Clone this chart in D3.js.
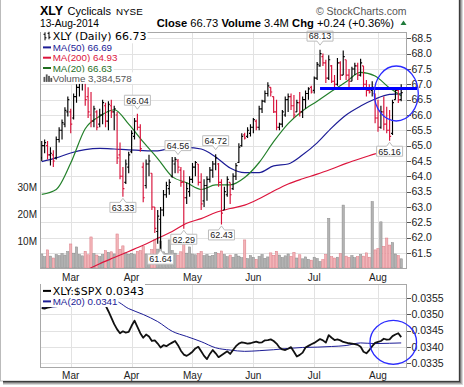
<!DOCTYPE html>
<html><head><meta charset="utf-8">
<script src="https://cdn.jsdelivr.net/npm/d3@7"></script>
<style>body{margin:0;background:#fff}svg{display:block}</style>
</head><body><svg id="c" width="464" height="387"></svg>
<script>
// ---------- data ----------
const holidays = ["2014-02-17","2014-04-18","2014-05-26","2014-07-04"];
const firstDay = "2014-02-14", lastDay = "2014-08-13";
const open = [64.60,65.00,65.00,64.70,64.70,64.60,65.20,65.50,65.70,66.10,66.10,65.90,66.60,66.90,67.10,67.20,66.60,66.00,65.80,66.10,
65.70,66.00,66.30,65.80,66.30,66.10,66.00,64.70,64.00,63.80,64.30,64.80,65.30,65.80,65.60,64.30,63.70,64.40,64.10,63.00,
62.20,62.60,62.90,63.40,63.60,64.00,64.40,64.50,64.20,63.80,63.30,63.50,63.90,64.30,64.40,63.80,63.20,63.70,63.90,64.20,
64.40,64.40,63.80,62.90,63.40,63.80,63.60,64.00,64.45,65.00,65.35,65.30,65.40,65.60,65.80,65.60,66.20,66.45,66.70,66.90,
66.60,66.10,65.60,65.70,66.00,66.50,66.60,66.30,66.10,66.40,66.10,66.50,66.70,66.90,66.80,67.20,67.60,67.90,67.70,67.20,
67.60,67.10,67.00,67.70,67.30,67.80,67.30,67.10,67.50,67.60,67.30,67.60,67.00,66.80,66.80,66.70,65.90,65.60,66.10,65.70,
65.50,65.40,66.50,66.80,66.50];
const high = [65.15,65.20,65.15,64.95,64.85,65.30,65.60,65.85,66.25,66.60,66.20,66.70,67.00,67.20,67.35,67.30,66.90,66.75,66.30,66.15,
66.20,66.50,66.40,66.45,66.50,66.30,66.10,65.10,64.30,64.55,64.80,65.50,65.90,66.04,65.70,64.45,64.55,64.70,64.10,63.00,
62.90,63.00,63.55,63.82,63.90,64.63,64.63,64.56,64.30,64.20,63.80,64.00,64.43,64.50,64.40,64.10,63.90,64.00,64.30,64.50,
64.72,64.43,63.90,63.66,64.00,63.80,64.10,64.43,65.08,65.40,65.42,65.60,65.70,65.90,65.85,66.30,66.50,66.80,67.07,66.90,
66.60,66.50,65.75,66.16,66.60,66.70,66.70,66.65,66.50,66.75,66.60,66.80,66.90,66.95,67.25,67.73,68.13,68.00,67.80,67.95,
67.63,67.30,67.86,67.75,68.10,67.80,67.50,67.57,67.70,67.70,67.83,67.60,67.14,67.00,67.10,66.70,66.50,66.30,66.60,66.27,
66.16,66.50,66.90,66.90,67.00];
const low = [64.50,64.75,64.55,64.35,64.30,64.55,65.10,65.20,65.60,65.95,65.40,65.85,66.40,66.60,66.80,66.30,65.90,65.60,65.60,65.50,
65.60,65.70,65.60,65.50,65.90,65.50,64.40,63.90,63.33,63.75,64.10,64.75,65.20,65.50,64.80,63.15,63.60,64.00,62.90,62.15,
61.80,61.64,62.70,63.30,63.40,63.95,64.10,64.10,63.66,62.29,63.10,63.33,63.78,64.00,63.70,62.90,63.00,63.20,63.80,63.95,
64.20,63.66,62.43,62.90,63.33,63.10,63.55,63.88,64.43,64.96,65.20,65.25,65.30,65.40,65.50,65.50,66.06,66.40,66.60,66.60,
66.06,65.50,65.50,65.60,65.94,66.10,66.16,65.90,66.10,65.95,65.90,66.20,66.50,66.70,66.70,67.14,67.57,67.60,67.04,67.14,
67.04,66.90,66.95,67.14,67.30,67.14,66.90,67.10,67.30,67.14,67.25,66.87,66.60,66.70,66.60,65.73,65.45,65.55,65.50,65.40,
65.16,65.35,66.50,66.39,66.45];
const close = [65.00,65.10,64.70,64.75,64.50,65.20,65.50,65.75,66.15,66.50,65.70,66.60,66.90,67.10,67.20,66.50,66.10,65.80,66.20,65.60,
66.00,66.40,65.80,66.35,66.10,66.20,64.60,64.00,63.60,64.40,64.70,65.40,65.80,65.60,64.90,63.30,64.40,64.50,63.00,62.30,
62.70,62.90,63.40,63.70,63.80,64.50,64.55,64.30,63.80,63.30,63.60,63.90,64.30,64.45,63.80,63.10,63.70,63.90,64.20,64.40,
64.60,63.80,62.80,63.50,63.90,63.40,64.00,64.35,64.95,65.30,65.25,65.50,65.60,65.85,65.60,66.20,66.45,66.70,66.95,66.75,
66.10,65.60,65.70,66.10,66.50,66.60,66.30,66.00,66.40,66.10,66.50,66.70,66.85,66.75,67.20,67.65,68.00,67.70,67.20,67.80,
67.10,67.00,67.70,67.30,67.90,67.30,67.10,67.50,67.60,67.30,67.70,67.00,66.80,66.75,66.90,65.90,65.60,66.10,65.70,65.50,
65.30,66.40,66.80,66.49,66.73];
// volume in millions of shares
const volume = [5.2,4.2,6.7,4.4,3.7,5.0,4.6,5.3,4.8,6.1,8.9,5.5,7.8,5.0,4.5,6.2,4.9,11.5,5.3,4.8,
4.2,5.0,6.4,5.8,6.0,5.2,12.6,6.9,8.2,5.6,5.1,5.4,5.0,6.2,6.5,7.9,5.2,4.8,6.8,10.4,
7.0,10.0,6.0,5.4,10.4,6.5,5.5,4.8,6.0,10.4,5.5,7.8,5.2,4.9,5.4,6.1,4.6,5.0,4.4,4.7,
5.8,5.3,6.3,5.0,4.2,4.8,4.0,5.1,4.4,3.8,10.4,3.5,4.6,3.9,3.2,4.3,5.0,3.6,4.1,5.6,
4.7,6.2,4.8,3.9,4.5,5.2,4.3,5.8,3.7,4.9,3.4,4.1,3.2,2.9,4.0,3.5,2.4,3.1,5.0,18.4,
4.2,3.7,4.0,5.3,23.3,4.4,3.9,4.6,3.8,4.2,5.0,4.4,5.6,4.0,24.6,6.7,7.2,17.1,8.0,11.1,
8.5,9.4,5.2,4.6,3.4];
// moving averages, sampled on these trading-day indices
const maIdx = [0,5,10,15,20,25,30,35,40,45,50,55,60,65,70,75,80,85,90,95,100,105,110,115,120,124];
const ma20 = [63.41,63.57,64.43,65.55,65.96,66.17,65.70,65.12,64.58,63.99,63.79,63.57,63.72,63.72,63.96,64.45,65.13,65.72,66.14,66.45,66.77,67.08,67.39,67.27,66.88,66.63];
const ma50 = [64.48,64.60,64.76,64.87,64.91,64.89,64.86,64.84,64.83,64.92,64.94,64.89,64.63,64.27,64.12,64.12,64.34,64.40,64.70,65.09,65.58,66.00,66.29,66.52,66.67,66.69];
const ma200 = [60.35,60.55,60.75,60.93,61.15,61.35,61.55,61.75,61.98,62.20,62.47,62.62,62.82,62.95,63.06,63.27,63.52,63.75,63.92,64.07,64.24,64.42,64.58,64.73,64.86,64.93];
// XLY:$SPX ratio (daily) and its MA(20) sampled on maIdx
const ratio = [.03520,.03518,.03521,.03523,.03527,.03532,.03536,.03540,.03545,.03548,.03552,.03555,.03553,.03556,.03560,.03558,.03555,.03560,.03557,.03552,
.03548,.03540,.03528,.03510,.03490,.03470,.03454,.03442,.03448,.03444,.03446,.03465,.03481,.03462,.03442,.03428,.03438,.03432,.03418,.03420,
.03410,.03398,.03405,.03402,.03408,.03413,.03418,.03405,.03388,.03376,.03372,.03378,.03385,.03395,.03400,.03386,.03372,.03362,.03378,.03390,
.03380,.03368,.03374,.03380,.03386,.03378,.03390,.03402,.03410,.03414,.03412,.03410,.03411,.03414,.03416,.03413,.03414,.03420,.03421,.03423,
.03418,.03410,.03398,.03392,.03390,.03394,.03399,.03385,.03370,.03375,.03382,.03398,.03403,.03408,.03412,.03418,.03424,.03420,.03413,.03436,
.03428,.03421,.03423,.03420,.03415,.03413,.03411,.03410,.03408,.03406,.03400,.03385,.03380,.03390,.03402,.03412,.03415,.03418,.03425,.03422,
.03423,.03433,.03438,.03442,.03430];
const ratioMa20 = [.03521,.03524,.03530,.03536,.03541,.03542,.03518,.03500,.03478,.03448,.03432,.03416,.03397,.03390,.03386,.03388,.03391,.03395,.03398,.03399,.03401,.03404,.03412,.03410,.03411,.03412];
const priceTicks = [61.5,62.0,62.5,63.0,63.5,64.0,64.5,65.0,65.5,66.0,66.5,67.0,67.5,68.0,68.5];
const volTicks = [10,20,30];
const ratioTicks = [0.0335,0.0340,0.0345,0.0350,0.0355];
const highLabelIdx = [33,47,60,96];
const lowLabelIdx = [28,41,49,62,120];
const resistanceLevel = 66.86, resistanceFrom = 96;
const circleCenterIdx = 122.3, circlePrice = 66.7, circleRatio = 0.03414;

// ---------- setup ----------
const fmtDay = d3.timeFormat("%Y-%m-%d");
const parse = d3.timeParse("%Y-%m-%d");
const days = d3.timeDay.range(parse(firstDay), d3.timeDay.offset(parse(lastDay), 1))
  .filter(d => d.getDay() % 6 !== 0 && !holidays.includes(fmtDay(d)));
const monthStarts = days.map((d,i)=>({d,i})).filter(o => o.i>0 && o.d.getMonth() !== days[o.i-1].getMonth());

const svg = d3.select("#c");
const F = "'Liberation Sans', Arial, sans-serif";
const FD = "'DejaVu Sans', Verdana, sans-serif";
const RED = "#d8123a", BLK = "#000";

const L = 40, R = 407, T = 32, B = 268, T2 = 284, B2 = 367;
const x = d3.scaleLinear().domain([-0.6, 126]).range([L, R]);
const y = d3.scaleLinear().domain([61.01, 68.705]).range([B, T]);
const yv = d3.scaleLinear().domain([0, 87.4]).range([B, T]);
const yr = d3.scaleLinear().domain([0.033376, 0.035942]).range([B2, T2]);

// frame + shadow
svg.append("rect").attr("x",0.5).attr("y",-1).attr("width",458.5).attr("height",382).attr("fill","#fff").attr("stroke","#bbb");
[["#3c3c3c",0],["#7a7a7a",1],["#adadad",2],["#d8d8d8",3]].forEach(([c,k])=>{
  svg.append("line").attr("x1",459.5+k).attr("x2",459.5+k).attr("y1",0).attr("y2",382+k).attr("stroke",c);
  svg.append("line").attr("x1",3).attr("x2",459.5+k).attr("y1",381.5+k).attr("y2",381.5+k).attr("stroke",c);
});

const defs = svg.append("defs");
defs.append("clipPath").attr("id","cm").append("rect").attr("x",L).attr("y",T).attr("width",R-L).attr("height",B-T);
defs.append("clipPath").attr("id","cr").append("rect").attr("x",L).attr("y",T2).attr("width",R-L).attr("height",B2-T2);

// ---------- header ----------
svg.append("text").attr("x",40).attr("y",15).attr("font-family",F).attr("font-size",12.5).attr("font-weight","bold").text("XLY");
svg.append("text").attr("x",67.5).attr("y",14.5).attr("font-family",F).attr("font-size",11).text("Cyclicals");
svg.append("text").attr("x",116).attr("y",14.5).attr("font-family",F).attr("font-size",9.8).text("NYSE");
svg.append("text").attr("x",406.5).attr("y",14.5).attr("text-anchor","end").attr("font-family",F).attr("font-size",10.5).attr("fill","#555").text("\u00A9 StockCharts.com");
svg.append("text").attr("x",40).attr("y",26.5).attr("font-family",F).attr("font-size",10.2).text(d3.timeFormat("%d-%b-%Y")(days[days.length-1]));
const n = close.length;
const chg = close[n-1]-close[n-2];
const hdr = svg.append("text").attr("x",156.7).attr("y",26.5).attr("font-family",F).attr("font-size",11.2);
hdr.append("tspan").attr("font-weight","bold").text("Close");
hdr.append("tspan").text(" " + close[n-1].toFixed(2) + " ");
hdr.append("tspan").attr("font-weight","bold").text("Volume");
hdr.append("tspan").text(" " + d3.format(".1f")(volume[n-1]) + "M ");
hdr.append("tspan").attr("font-weight","bold").text("Chg");
hdr.append("tspan").text(" " + d3.format("+.2f")(chg) + " (" + d3.format("+.2f")(chg/close[n-2]*100) + "%)");
svg.append("path").attr("d","M400.5,25 L403.5,20.5 L406.5,25 Z").attr("fill","#1f7a3a");

// ---------- grids ----------
const gGrid = svg.append("g").attr("stroke","#e2e2e2").attr("shape-rendering","crispEdges");
priceTicks.forEach(p => gGrid.append("line").attr("x1",L).attr("x2",R).attr("y1",Math.round(y(p))+0.5).attr("y2",Math.round(y(p))+0.5));
ratioTicks.forEach(p => gGrid.append("line").attr("x1",L).attr("x2",R).attr("y1",Math.round(yr(p))+0.5).attr("y2",Math.round(yr(p))+0.5));
monthStarts.forEach(o => {
  const xx = Math.round(x(o.i))+0.5;
  gGrid.append("line").attr("x1",xx).attr("x2",xx).attr("y1",T).attr("y2",B);
  gGrid.append("line").attr("x1",xx).attr("x2",xx).attr("y1",T2).attr("y2",B2);
});

// ---------- volume ----------
const up = close.map((c,i)=> i===0 || c >= close[i-1]);
const step = x(1)-x(0);
svg.append("g").attr("clip-path","url(#cm)").selectAll("rect").data(volume).join("rect")
  .attr("x",(v,i)=>x(i)-step/2+0.3).attr("width",step-0.6)
  .attr("y",v=>yv(v)).attr("height",v=>B-yv(v))
  .attr("fill",(v,i)=>up[i]?"#b3b3b3":"#f2b4b8")
  .attr("stroke",(v,i)=>up[i]?"#8a8a8a":"#dc7a84").attr("stroke-width",0.5);

// ---------- moving averages ----------
const maLine = (ys) => d3.line().x(d=>x(d[0])).y(d=>ys(d[1])).curve(d3.curveMonotoneX);
const gMA = svg.append("g").attr("clip-path","url(#cm)").attr("fill","none");
gMA.append("path").attr("d",maLine(y)(maIdx.map((k,j)=>[k,ma200[j]]))).attr("stroke","#dc143c").attr("stroke-width",1.2);
gMA.append("path").attr("d",maLine(y)(maIdx.map((k,j)=>[k,ma50[j]]))).attr("stroke","#1c1c96").attr("stroke-width",1.2);
gMA.append("path").attr("d",maLine(y)(maIdx.map((k,j)=>[k,ma20[j]]))).attr("stroke","#23802a").attr("stroke-width",1.2);

// ---------- price bars ----------
const tk = 1.5;
svg.append("g").attr("clip-path","url(#cm)").selectAll("path").data(close).join("path")
  .attr("d",(c,i)=>{const xx=x(i);return `M${xx},${y(high[i])}V${y(low[i])}M${xx-tk},${y(open[i])}H${xx}M${xx},${y(c)}H${xx+tk}`;})
  .attr("stroke",(c,i)=>up[i]?BLK:RED).attr("stroke-width",1.15).attr("fill","none");

// ---------- price callouts ----------
function callout(i, val, isHigh){
  const cx = x(i), w = 26, h = 10;
  const py = y(val);
  let d, ty;
  if(isHigh){
    const yb = py - 8.5, yt = yb - h;
    d = `M${cx-w/2},${yt}H${cx+w/2}V${yb}H${cx+3}L${cx},${yb+4}L${cx-3},${yb}H${cx-w/2}Z`;
    ty = yt + 8.3;
  } else {
    const yt = py + 5.5, yb = yt + h;
    d = `M${cx-w/2},${yt}H${cx-3}L${cx},${yt-4}L${cx+3},${yt}H${cx+w/2}V${yb}H${cx-w/2}Z`;
    ty = yt + 8.3;
  }
  svg.append("path").attr("d",d).attr("fill","#fff").attr("stroke","#bdbdbd").attr("stroke-width",1);
  svg.append("text").attr("x",cx).attr("y",ty).attr("text-anchor","middle").attr("font-family",F).attr("font-size",9).attr("fill","#222").text(val.toFixed(2));
}
highLabelIdx.forEach(i=>callout(i, high[i], true));
lowLabelIdx.forEach(i=>callout(i, low[i], false));

// ---------- ratio panel ----------
const gR = svg.append("g").attr("clip-path","url(#cr)").attr("fill","none");
gR.append("path").attr("d",maLine(yr)(maIdx.map((k,j)=>[k,ratioMa20[j]]))).attr("stroke","#1c1c96").attr("stroke-width",1);
gR.append("path").attr("d",d3.line().x((v,i)=>x(i)).y(v=>yr(v))(ratio)).attr("stroke","#111").attr("stroke-width",1.8).attr("stroke-linejoin","round");

// ---------- borders ----------
svg.append("rect").attr("x",L+0.5).attr("y",T+0.5).attr("width",R-L-1).attr("height",B-T).attr("fill","none").attr("stroke","#a8a8a8");
svg.append("rect").attr("x",L+0.5).attr("y",T2+0.5).attr("width",R-L-1).attr("height",B2-T2).attr("fill","none").attr("stroke","#a8a8a8");

// ---------- axes labels ----------
const gAx = svg.append("g").attr("font-family",F).attr("font-size",10.5).attr("fill","#222");
priceTicks.forEach(p=>{
  svg.append("line").attr("x1",R).attr("x2",R+4).attr("y1",Math.round(y(p))+0.5).attr("y2",Math.round(y(p))+0.5).attr("stroke","#555");
  gAx.append("text").attr("x",R+4.5).attr("y",y(p)+3.8).text(p.toFixed(1));
});
ratioTicks.forEach(p=>{
  svg.append("line").attr("x1",R).attr("x2",R+4).attr("y1",Math.round(yr(p))+0.5).attr("y2",Math.round(yr(p))+0.5).attr("stroke","#555");
  gAx.append("text").attr("x",R+4.5).attr("y",yr(p)+3.8).text(p.toFixed(4));
});
volTicks.forEach(v=>{
  gAx.append("text").attr("x",37).attr("y",yv(v)+3.6).attr("text-anchor","end").attr("font-size",10).text(v+"M");
});
monthStarts.forEach(o=>{
  const lab = d3.timeFormat("%b")(o.d);
  gAx.append("text").attr("x",x(o.i)).attr("y",280.7).attr("text-anchor","middle").attr("font-size",10).text(lab);
  gAx.append("text").attr("x",x(o.i)).attr("y",379).attr("text-anchor","middle").attr("font-size",10).text(lab);
});

// ---------- legends ----------
function legendRow(yb, font, size, color, label, marker){
  const g = svg.append("g");
  const t = g.append("text").attr("x",52.7).attr("y",yb).attr("font-family",font).attr("font-size",size).attr("fill",color).text(label);
  const bb = t.node().getBBox();
  g.insert("rect","text").attr("x",41).attr("y",bb.y-0.5).attr("width",bb.x+bb.width-40).attr("height",bb.height+0.5).attr("fill","#fff");
  marker(g, yb);
}
const lineMarker = (c,w)=> (g,yb)=> g.append("line").attr("x1",43).attr("x2",51).attr("y1",yb-3.6).attr("y2",yb-3.6).attr("stroke",c).attr("stroke-width",w);
legendRow(40.3, FD, 11, "#000", `XLY (Daily) ${close[n-1].toFixed(2)}`, (g,yb)=>{
  g.append("path").attr("d",`M45,${yb-8}V${yb}M43.5,${yb-6}H45M45,${yb-2.5}H46.5M49,${yb-8.5}V${yb-1}M47.5,${yb-7}H49M49,${yb-3}H50.5`).attr("stroke","#000").attr("stroke-width",1).attr("fill","none");
});
legendRow(51, F, 9.8, "#1c1c96", `MA(50) ${ma50[ma50.length-1].toFixed(2)}`, lineMarker("#1c1c96",2));
legendRow(61.3, F, 9.8, "#dc143c", `MA(200) ${ma200[ma200.length-1].toFixed(2)}`, lineMarker("#dc143c",2));
legendRow(71.6, F, 9.8, "#1f6e1f", `MA(20) ${ma20[ma20.length-1].toFixed(2)}`, lineMarker("#1f6e1f",2));
legendRow(81.9, F, 9.8, "#555", `Volume ${d3.format(",")(3384578)}`, (g,yb)=>{
  [[43.5,5],[45.8,7.5],[48.1,6],[50.4,4]].forEach(([xx,hh])=>g.append("rect").attr("x",xx).attr("y",yb-hh).attr("width",1.8).attr("height",hh).attr("fill","#555"));
});
legendRow(294.5, FD, 11, "#000", `XLY:$SPX ${ratio[n-1].toFixed(4)}`, lineMarker("#000",2));
legendRow(305, F, 9.8, "#1c1c96", `MA(20) ${ratioMa20[ratioMa20.length-1].toFixed(4)}`, lineMarker("#1c1c96",2));

// ---------- annotations ----------
svg.append("line").attr("x1",x(resistanceFrom)).attr("x2",417).attr("y1",y(resistanceLevel)).attr("y2",y(resistanceLevel)).attr("stroke","#0000ff").attr("stroke-width",3);
svg.append("ellipse").attr("cx",x(circleCenterIdx)).attr("cy",y(circlePrice)).attr("rx",22).attr("ry",27.5).attr("fill","none").attr("stroke","#2b2bff").attr("stroke-width",1.3);
svg.append("ellipse").attr("cx",x(circleCenterIdx)-3).attr("cy",yr(circleRatio)).attr("rx",23.3).attr("ry",22).attr("fill","none").attr("stroke","#2b2bff").attr("stroke-width",1.3);
</script></body></html>
